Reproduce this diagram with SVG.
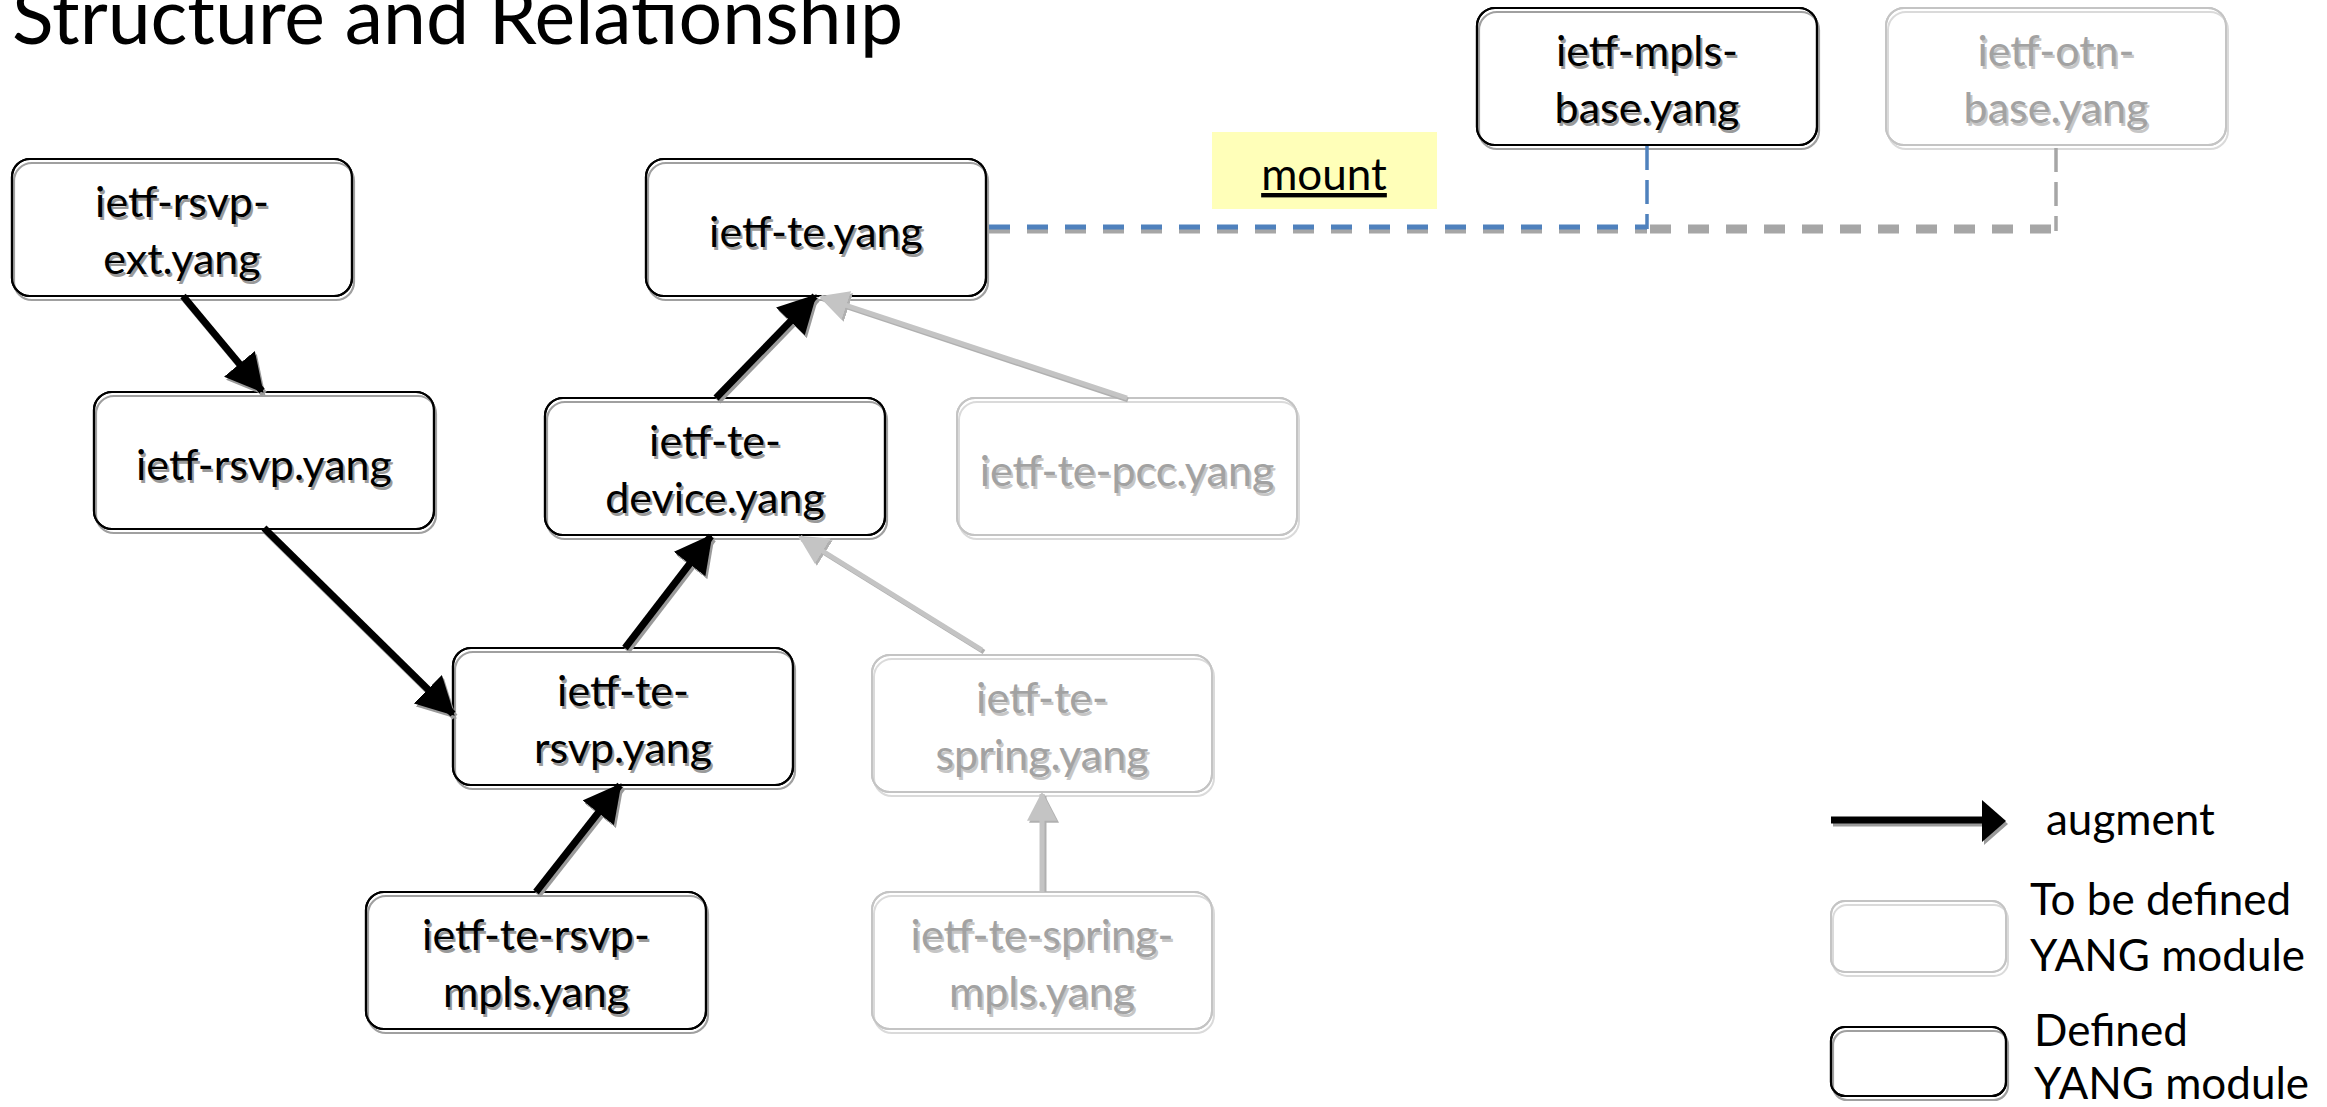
<svg xmlns="http://www.w3.org/2000/svg" xmlns:xlink="http://www.w3.org/1999/xlink" width="2327" height="1107" viewBox="0 0 2327 1107">
<defs>
<style>
.t{font-family:Lato,"Carlito","Liberation Sans",sans-serif;}
.title{font-size:77px;fill:#000;}
.nt{font-size:43px;text-anchor:middle;}
.blk{fill:#000;}
.blks{fill:#9a9a9a;}
.gry{fill:#a2a2a2;}
.grys{fill:#c6c6c6;}
.bx{fill:#fff;stroke:#000;stroke-width:2.2;}
.bxs{fill:none;stroke:#a0a0a0;stroke-width:2.2;}
.gbx{fill:#fff;stroke:#c4c4c4;stroke-width:2;}
.gbxs{fill:none;stroke:#dadada;stroke-width:2;}
.lg{font-size:44px;fill:#000;}
.ab{stroke:#000;stroke-width:7;fill:none;}
.abs{stroke:#9a9a9a;stroke-width:7;fill:none;}
.ag{stroke:#c4c4c4;stroke-width:5;fill:none;}
.ags{stroke:#b0b0b0;stroke-width:5;fill:none;}
</style>
<marker id="hb" markerUnits="userSpaceOnUse" markerWidth="40" markerHeight="40" viewBox="0 0 34 34" refX="30" refY="17" orient="auto"><path d="M0,0 L32,17 L0,34 Z" fill="#000"/></marker>
<marker id="hbs" markerUnits="userSpaceOnUse" markerWidth="40" markerHeight="40" viewBox="0 0 34 34" refX="30" refY="17" orient="auto"><path d="M0,0 L32,17 L0,34 Z" fill="#9a9a9a"/></marker>
<marker id="hg" markerUnits="userSpaceOnUse" markerWidth="30" markerHeight="30" viewBox="0 0 28 28" refX="25" refY="14" orient="auto"><path d="M0,0 L27,14 L0,28 Z" fill="#c4c4c4"/></marker>
<marker id="hgs" markerUnits="userSpaceOnUse" markerWidth="30" markerHeight="30" viewBox="0 0 28 28" refX="25" refY="14" orient="auto"><path d="M0,0 L27,14 L0,28 Z" fill="#b0b0b0"/></marker>
</defs>
<rect width="2327" height="1107" fill="#fff"/>

<text class="t title" x="12" y="44">Structure and Relationship</text>

<!-- nodes -->
<g id="n-rsvp-ext">
<rect class="bx" x="12" y="159" width="340" height="137" rx="18"/>
<rect class="bxs" x="14" y="163" width="340" height="137" rx="18"/>
<rect fill="none" stroke="#000" stroke-width="2.2" x="12" y="159" width="340" height="137" rx="18"/>
<text class="t nt blks" x="184" y="220">ietf-rsvp-</text><text class="t nt blk" x="182" y="217">ietf-rsvp-</text>
<text class="t nt blks" x="184" y="277">ext.yang</text><text class="t nt blk" x="182" y="274">ext.yang</text>
</g>
<g id="n-te">
<rect class="bx" x="646" y="159" width="340" height="137" rx="18"/>
<rect class="bxs" x="648" y="163" width="340" height="137" rx="18"/>
<rect fill="none" stroke="#000" stroke-width="2.2" x="646" y="159" width="340" height="137" rx="18"/>
<text class="t nt blks" x="818" y="250">ietf-te.yang</text><text class="t nt blk" x="816" y="247">ietf-te.yang</text>
</g>
<g id="n-mpls-base">
<rect class="bx" x="1477" y="8" width="340" height="137" rx="18"/>
<rect class="bxs" x="1479" y="12" width="340" height="137" rx="18"/>
<rect fill="none" stroke="#000" stroke-width="2.2" x="1477" y="8" width="340" height="137" rx="18"/>
<text class="t nt blks" x="1649" y="69">ietf-mpls-</text><text class="t nt blk" x="1647" y="66">ietf-mpls-</text>
<text class="t nt blks" x="1649" y="126">base.yang</text><text class="t nt blk" x="1647" y="123">base.yang</text>
</g>
<g id="n-otn-base">
<rect class="gbx" x="1886" y="8" width="340" height="137" rx="18"/>
<rect class="gbxs" x="1888" y="12" width="340" height="137" rx="18"/>
<rect fill="none" stroke="#c4c4c4" stroke-width="2" x="1886" y="8" width="340" height="137" rx="18"/>
<text class="t nt grys" x="2058" y="69">ietf-otn-</text><text class="t nt gry" x="2056" y="66">ietf-otn-</text>
<text class="t nt grys" x="2058" y="126">base.yang</text><text class="t nt gry" x="2056" y="123">base.yang</text>
</g>
<g id="n-rsvp">
<rect class="bx" x="94" y="392" width="340" height="137" rx="18"/>
<rect class="bxs" x="96" y="396" width="340" height="137" rx="18"/>
<rect fill="none" stroke="#000" stroke-width="2.2" x="94" y="392" width="340" height="137" rx="18"/>
<text class="t nt blks" x="266" y="483">ietf-rsvp.yang</text><text class="t nt blk" x="264" y="480">ietf-rsvp.yang</text>
</g>
<g id="n-te-device">
<rect class="bx" x="545" y="398" width="340" height="137" rx="18"/>
<rect class="bxs" x="547" y="402" width="340" height="137" rx="18"/>
<rect fill="none" stroke="#000" stroke-width="2.2" x="545" y="398" width="340" height="137" rx="18"/>
<text class="t nt blks" x="717" y="459">ietf-te-</text><text class="t nt blk" x="715" y="456">ietf-te-</text>
<text class="t nt blks" x="717" y="516">device.yang</text><text class="t nt blk" x="715" y="513">device.yang</text>
</g>
<g id="n-te-pcc">
<rect class="gbx" x="957" y="398" width="340" height="137" rx="18"/>
<rect class="gbxs" x="959" y="402" width="340" height="137" rx="18"/>
<rect fill="none" stroke="#c4c4c4" stroke-width="2" x="957" y="398" width="340" height="137" rx="18"/>
<text class="t nt grys" x="1129" y="489">ietf-te-pcc.yang</text><text class="t nt gry" x="1127" y="486">ietf-te-pcc.yang</text>
</g>
<g id="n-te-rsvp">
<rect class="bx" x="453" y="648" width="340" height="137" rx="18"/>
<rect class="bxs" x="455" y="652" width="340" height="137" rx="18"/>
<rect fill="none" stroke="#000" stroke-width="2.2" x="453" y="648" width="340" height="137" rx="18"/>
<text class="t nt blks" x="625" y="709">ietf-te-</text><text class="t nt blk" x="623" y="706">ietf-te-</text>
<text class="t nt blks" x="625" y="766">rsvp.yang</text><text class="t nt blk" x="623" y="763">rsvp.yang</text>
</g>
<g id="n-te-spring">
<rect class="gbx" x="872" y="655" width="340" height="137" rx="18"/>
<rect class="gbxs" x="874" y="659" width="340" height="137" rx="18"/>
<rect fill="none" stroke="#c4c4c4" stroke-width="2" x="872" y="655" width="340" height="137" rx="18"/>
<text class="t nt grys" x="1044" y="716">ietf-te-</text><text class="t nt gry" x="1042" y="713">ietf-te-</text>
<text class="t nt grys" x="1044" y="773">spring.yang</text><text class="t nt gry" x="1042" y="770">spring.yang</text>
</g>
<g id="n-te-rsvp-mpls">
<rect class="bx" x="366" y="892" width="340" height="137" rx="18"/>
<rect class="bxs" x="368" y="896" width="340" height="137" rx="18"/>
<rect fill="none" stroke="#000" stroke-width="2.2" x="366" y="892" width="340" height="137" rx="18"/>
<text class="t nt blks" x="538" y="953">ietf-te-rsvp-</text><text class="t nt blk" x="536" y="950">ietf-te-rsvp-</text>
<text class="t nt blks" x="538" y="1010">mpls.yang</text><text class="t nt blk" x="536" y="1007">mpls.yang</text>
</g>
<g id="n-te-spring-mpls">
<rect class="gbx" x="872" y="892" width="340" height="137" rx="18"/>
<rect class="gbxs" x="874" y="896" width="340" height="137" rx="18"/>
<rect fill="none" stroke="#c4c4c4" stroke-width="2" x="872" y="892" width="340" height="137" rx="18"/>
<text class="t nt grys" x="1044" y="953">ietf-te-spring-</text><text class="t nt gry" x="1042" y="950">ietf-te-spring-</text>
<text class="t nt grys" x="1044" y="1010">mpls.yang</text><text class="t nt gry" x="1042" y="1007">mpls.yang</text>
</g>

<!-- mount label -->
<g id="mount-label">
<rect x="1212" y="132" width="225" height="77" fill="#ffffb9"/>
<text class="t" x="1324" y="190" font-size="44" text-anchor="middle" text-decoration="underline" fill="#000">mount</text>
</g>

<!-- connectors -->
<g id="connectors">
<line x1="989" y1="231" x2="1647" y2="231" stroke="#a6a6a6" stroke-width="5" stroke-dasharray="21 17"/>
<line x1="989" y1="227" x2="1647" y2="227" stroke="#4f81bd" stroke-width="5" stroke-dasharray="21 17"/>
<line x1="1647" y1="146" x2="1647" y2="229" stroke="#4f81bd" stroke-width="3.5" stroke-dasharray="24 10"/>
<line x1="1650" y1="231" x2="2056" y2="231" stroke="#a6a6a6" stroke-width="5" stroke-dasharray="21 17"/>
<line x1="1650" y1="227" x2="2056" y2="227" stroke="#a6a6a6" stroke-width="5" stroke-dasharray="21 17"/>
<line x1="2056" y1="148" x2="2056" y2="231" stroke="#a6a6a6" stroke-width="3.5" stroke-dasharray="24 10"/>

<line class="ags" x1="1128" y1="400" x2="823" y2="299" marker-end="url(#hgs)"/>
<line class="ag" x1="1127" y1="398" x2="821" y2="297" marker-end="url(#hg)"/>
<line class="ags" x1="984" y1="652" x2="802" y2="539" marker-end="url(#hgs)"/>
<line class="ag" x1="982" y1="650" x2="800" y2="537" marker-end="url(#hg)"/>
<line class="ags" x1="1044" y1="892" x2="1044" y2="796" marker-end="url(#hgs)"/>
<line class="ag" x1="1042" y1="892" x2="1042" y2="794" marker-end="url(#hg)"/>

<line class="abs" x1="185" y1="299" x2="264" y2="394" marker-end="url(#hbs)"/>
<line class="ab" x1="183" y1="296" x2="262" y2="391" marker-end="url(#hb)"/>
<line class="abs" x1="266" y1="531" x2="455" y2="717" marker-end="url(#hbs)"/>
<line class="ab" x1="264" y1="528" x2="453" y2="714" marker-end="url(#hb)"/>
<line class="abs" x1="627" y1="651" x2="713" y2="539" marker-end="url(#hbs)"/>
<line class="ab" x1="625" y1="648" x2="711" y2="536" marker-end="url(#hb)"/>
<line class="abs" x1="718" y1="401" x2="817" y2="299" marker-end="url(#hbs)"/>
<line class="ab" x1="716" y1="398" x2="815" y2="296" marker-end="url(#hb)"/>
<line class="abs" x1="538" y1="895" x2="622" y2="788" marker-end="url(#hbs)"/>
<line class="ab" x1="536" y1="892" x2="620" y2="785" marker-end="url(#hb)"/>
</g>

<!-- legend -->
<g id="legend-augment">
<line x1="1833" y1="823" x2="1984" y2="823" stroke="#9a9a9a" stroke-width="7"/>
<polygon points="1984,803 2008,824 1984,845" fill="#9a9a9a"/>
<line x1="1831" y1="820" x2="1983" y2="820" stroke="#000" stroke-width="7"/>
<polygon points="1982,800 2006,821 1982,842" fill="#000"/>
<text class="t lg" x="2046" y="835">augment</text>
</g>
<g id="legend-tbd">
<rect class="gbx" x="1831" y="901" width="175" height="71" rx="14"/>
<rect class="gbxs" x="1833" y="905" width="175" height="71" rx="14"/>
<rect fill="none" stroke="#c4c4c4" stroke-width="2" x="1831" y="901" width="175" height="71" rx="14"/>
<text class="t lg" x="2030" y="915">To be defined</text>
<text class="t lg" x="2030" y="971">YANG module</text>
</g>
<g id="legend-defined">
<rect class="bx" x="1831" y="1027" width="175" height="69" rx="14"/>
<rect class="bxs" x="1833" y="1031" width="175" height="69" rx="14"/>
<rect fill="none" stroke="#000" stroke-width="2.2" x="1831" y="1027" width="175" height="69" rx="14"/>
<text class="t lg" x="2034" y="1046">Defined</text>
<text class="t lg" x="2034" y="1099">YANG module</text>
</g>
</svg>
